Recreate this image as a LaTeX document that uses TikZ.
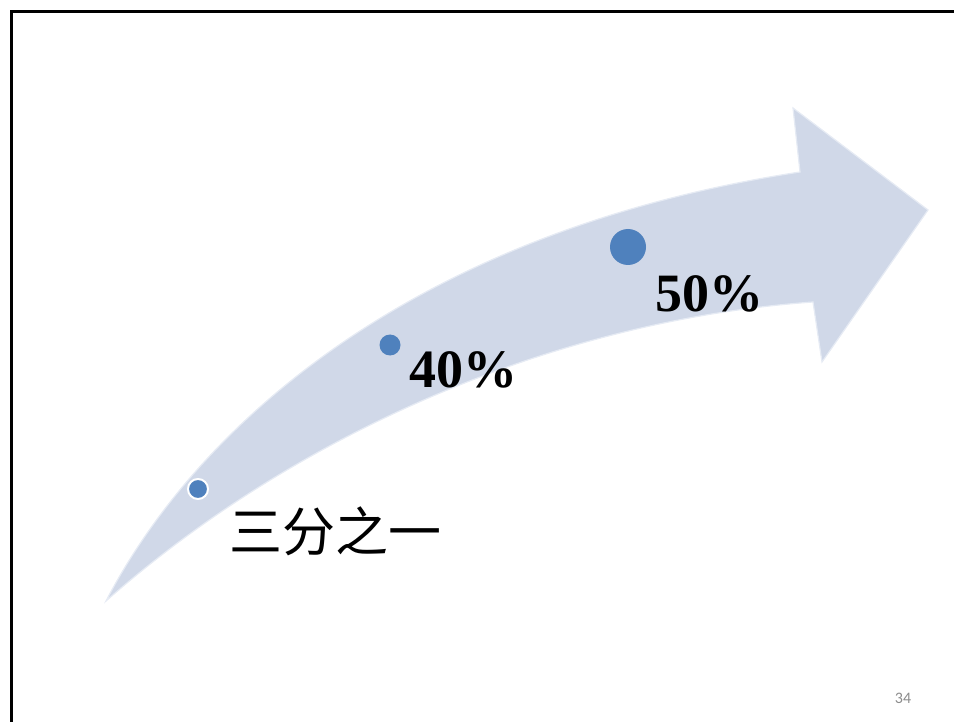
\documentclass[tikz,border=0pt]{standalone}
\usepackage{fontspec}
\setmainfont{Liberation Serif}
\newfontfamily\cjkfont{Noto Sans CJK SC}
\newfontfamily\pagefont{Carlito}
\usetikzlibrary{positioning}

\definecolor{arrowfill}{HTML}{D0D8E8}
\definecolor{arrowedge}{HTML}{E6EBF4}
\definecolor{dotblue}{HTML}{4F81BD}
\definecolor{pagegray}{HTML}{8C8C8C}

\begin{document}
\begin{tikzpicture}[
    x=1pt, y=-1pt,
    milestone/.style={circle, fill=dotblue, inner sep=0pt},
    share/.style={font=\fontsize{54}{54}\selectfont\bfseries, inner sep=0pt},
    frameline/.style={line width=3pt, black},
]
\useasboundingbox (0,0) rectangle (954,722);

% Frame (left and top edges)
\draw[frameline] (11,722) -- (11,12) -- (954,12);

% ============ Curved arrow ============
\filldraw[fill=arrowfill, draw=arrowedge, line width=1.2pt]
    (106,601) .. controls (200,420) and (420,230) .. (800,172)
    -- (793,108) -- (928,210) -- (822,362) -- (813,302)
    .. controls (560,320) and (300,430) .. cycle;

% ============ Milestones ============
\node[milestone, minimum size=20pt, draw=white, line width=2pt] (third) at (198,489) {};
\node[milestone, minimum size=21pt] (forty) at (390,345) {};
\node[milestone, minimum size=36pt] (fifty) at (628,247) {};

% Labels
\node[anchor=base west, inner sep=0pt, font=\cjkfont\fontsize{53}{53}\selectfont]
    (thirdlbl) at (229,551) {三分之一};
\node[share] (fortylbl) at (463,370) {40\%};
\node[share] (fiftylbl) at (709,294) {50\%};

% Page number
\node[font=\pagefont\fontsize{16}{16}\selectfont, text=pagegray] (pagenum) at (903,698) {34};

\end{tikzpicture}
\end{document}
